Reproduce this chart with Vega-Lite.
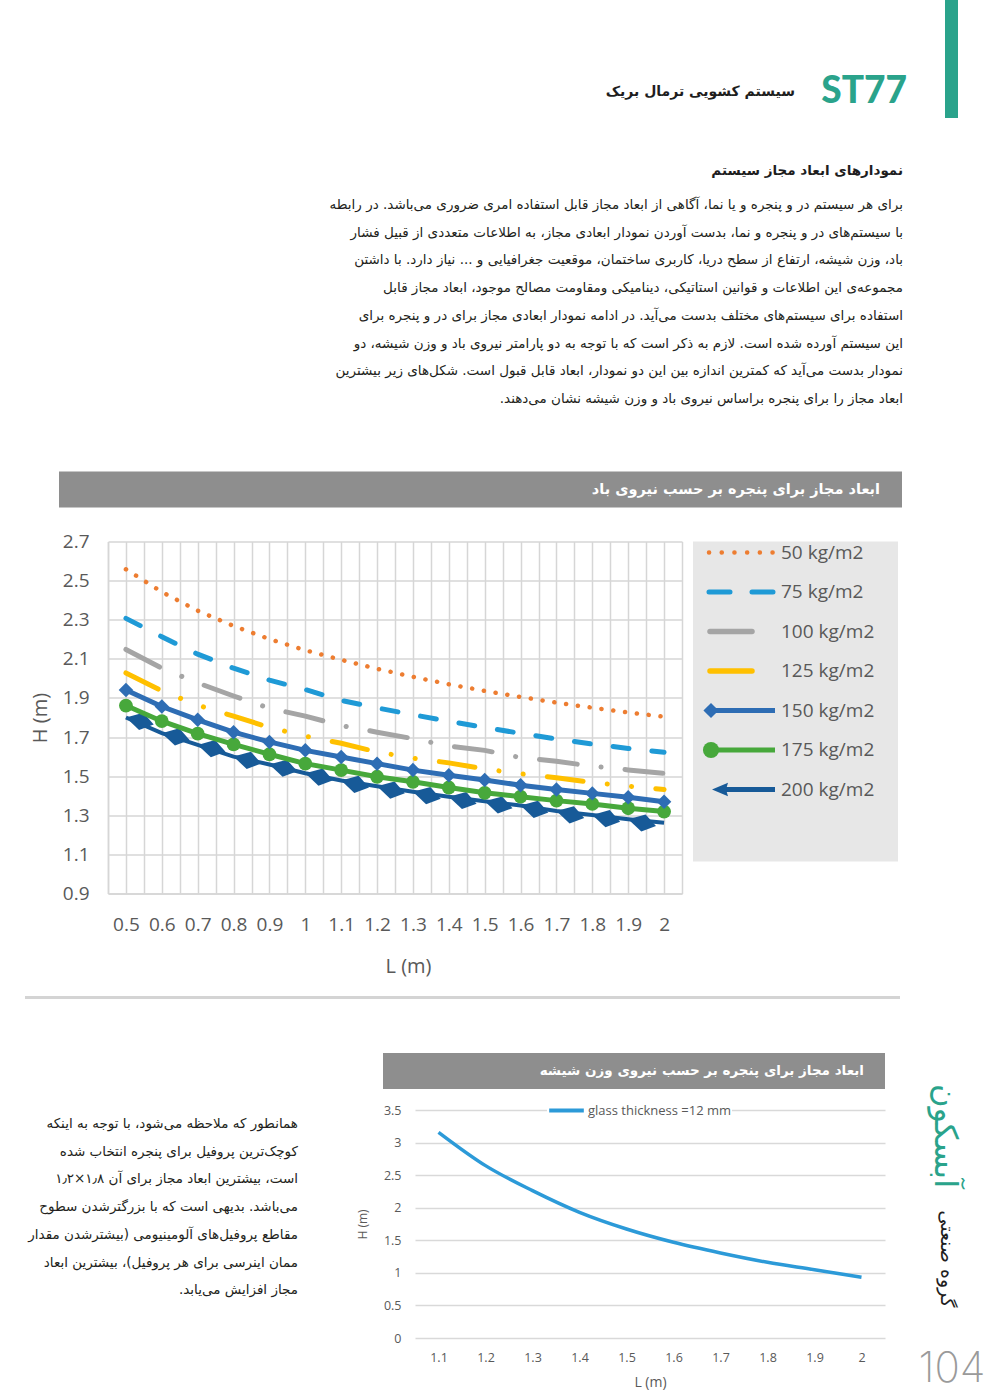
{
  "$schema": "https://vega.github.io/schema/vega-lite/v6.json",
  "padding": 0,
  "background": "white",
  "spacing": 53.5,
  "bounds": "full",
  "config": {"view": {"stroke": null}, "font": "Open Sans", "axis": {"labelFont": "Open Sans", "titleFont": "Open Sans"}},
  "resolve": {"scale": {"color": "independent"}},
  "datasets": {
    "wind": [
      {"P":50,"L":0.5,"H":2.558},{"P":50,"L":0.6,"H":2.442},{"P":50,"L":0.7,"H":2.346},{"P":50,"L":0.8,"H":2.268},{"P":50,"L":0.9,"H":2.201},{"P":50,"L":1.0,"H":2.144},{"P":50,"L":1.1,"H":2.095},{"P":50,"L":1.2,"H":2.049},{"P":50,"L":1.3,"H":2.008},{"P":50,"L":1.4,"H":1.970},{"P":50,"L":1.5,"H":1.936},{"P":50,"L":1.6,"H":1.905},{"P":50,"L":1.7,"H":1.876},{"P":50,"L":1.8,"H":1.850},{"P":50,"L":1.9,"H":1.826},{"P":50,"L":2.0,"H":1.804},
      {"P":75,"L":0.5,"H":2.307},{"P":75,"L":0.6,"H":2.213},{"P":75,"L":0.7,"H":2.124},{"P":75,"L":0.8,"H":2.052},{"P":75,"L":0.9,"H":1.991},{"P":75,"L":1.0,"H":1.943},{"P":75,"L":1.1,"H":1.887},{"P":75,"L":1.2,"H":1.849},{"P":75,"L":1.3,"H":1.814},{"P":75,"L":1.4,"H":1.781},{"P":75,"L":1.5,"H":1.749},{"P":75,"L":1.6,"H":1.719},{"P":75,"L":1.7,"H":1.690},{"P":75,"L":1.8,"H":1.664},{"P":75,"L":1.9,"H":1.642},{"P":75,"L":2.0,"H":1.622},
      {"P":100,"L":0.5,"H":2.148},{"P":100,"L":0.6,"H":2.052},{"P":100,"L":0.7,"H":1.977},{"P":100,"L":0.8,"H":1.910},{"P":100,"L":0.9,"H":1.847},{"P":100,"L":1.0,"H":1.807},{"P":100,"L":1.1,"H":1.759},{"P":100,"L":1.2,"H":1.725},{"P":100,"L":1.3,"H":1.692},{"P":100,"L":1.4,"H":1.654},{"P":100,"L":1.5,"H":1.632},{"P":100,"L":1.6,"H":1.595},{"P":100,"L":1.7,"H":1.576},{"P":100,"L":1.8,"H":1.551},{"P":100,"L":1.9,"H":1.532},{"P":100,"L":2.0,"H":1.514},
      {"P":125,"L":0.5,"H":2.028},{"P":125,"L":0.6,"H":1.936},{"P":125,"L":0.7,"H":1.863},{"P":125,"L":0.8,"H":1.807},{"P":125,"L":0.9,"H":1.749},{"P":125,"L":1.0,"H":1.705},{"P":125,"L":1.1,"H":1.668},{"P":125,"L":1.2,"H":1.624},{"P":125,"L":1.3,"H":1.592},{"P":125,"L":1.4,"H":1.568},{"P":125,"L":1.5,"H":1.537},{"P":125,"L":1.6,"H":1.512},{"P":125,"L":1.7,"H":1.492},{"P":125,"L":1.8,"H":1.468},{"P":125,"L":1.9,"H":1.449},{"P":125,"L":2.0,"H":1.432},
      {"P":150,"L":0.5,"H":1.941},{"P":150,"L":0.6,"H":1.856},{"P":150,"L":0.7,"H":1.788},{"P":150,"L":0.8,"H":1.725},{"P":150,"L":0.9,"H":1.675},{"P":150,"L":1.0,"H":1.632},{"P":150,"L":1.1,"H":1.598},{"P":150,"L":1.2,"H":1.564},{"P":150,"L":1.3,"H":1.531},{"P":150,"L":1.4,"H":1.505},{"P":150,"L":1.5,"H":1.480},{"P":150,"L":1.6,"H":1.454},{"P":150,"L":1.7,"H":1.432},{"P":150,"L":1.8,"H":1.412},{"P":150,"L":1.9,"H":1.392},{"P":150,"L":2.0,"H":1.369},
      {"P":175,"L":0.5,"H":1.861},{"P":175,"L":0.6,"H":1.781},{"P":175,"L":0.7,"H":1.717},{"P":175,"L":0.8,"H":1.663},{"P":175,"L":0.9,"H":1.612},{"P":175,"L":1.0,"H":1.564},{"P":175,"L":1.1,"H":1.531},{"P":175,"L":1.2,"H":1.497},{"P":175,"L":1.3,"H":1.471},{"P":175,"L":1.4,"H":1.442},{"P":175,"L":1.5,"H":1.415},{"P":175,"L":1.6,"H":1.395},{"P":175,"L":1.7,"H":1.375},{"P":175,"L":1.8,"H":1.358},{"P":175,"L":1.9,"H":1.336},{"P":175,"L":2.0,"H":1.319},
      {"P":200,"L":0.5,"H":1.800},{"P":200,"L":0.6,"H":1.720},{"P":200,"L":0.7,"H":1.660},{"P":200,"L":0.8,"H":1.600},{"P":200,"L":0.9,"H":1.560},{"P":200,"L":1.0,"H":1.515},{"P":200,"L":1.1,"H":1.478},{"P":200,"L":1.2,"H":1.448},{"P":200,"L":1.3,"H":1.420},{"P":200,"L":1.4,"H":1.395},{"P":200,"L":1.5,"H":1.372},{"P":200,"L":1.6,"H":1.350},{"P":200,"L":1.7,"H":1.322},{"P":200,"L":1.8,"H":1.302},{"P":200,"L":1.9,"H":1.280},{"P":200,"L":2.0,"H":1.262}
    ],
    "legend": [
      {"P":50,"lab":"50 kg/m2"},{"P":75,"lab":"75 kg/m2"},{"P":100,"lab":"100 kg/m2"},{"P":125,"lab":"125 kg/m2"},{"P":150,"lab":"150 kg/m2"},{"P":175,"lab":"175 kg/m2"},{"P":200,"lab":"200 kg/m2"}
    ],
    "glass": [
      {"g":"glass thickness =12 mm","L":1.1,"H":3.158},{"g":"glass thickness =12 mm","L":1.2,"H":2.646},{"g":"glass thickness =12 mm","L":1.3,"H":2.262},{"g":"glass thickness =12 mm","L":1.4,"H":1.929},{"g":"glass thickness =12 mm","L":1.5,"H":1.673},{"g":"glass thickness =12 mm","L":1.6,"H":1.469},{"g":"glass thickness =12 mm","L":1.7,"H":1.305},{"g":"glass thickness =12 mm","L":1.8,"H":1.162},{"g":"glass thickness =12 mm","L":1.9,"H":1.049},{"g":"glass thickness =12 mm","L":2.0,"H":0.931}
    ]
  },
  "vconcat": [
    {
      "width": 1000,
      "height": 417.5,
      "view": {"fill": "white", "stroke": null},
      "data": {"values": [{}]},
      "layer": [
        {"mark": {"type": "rect", "color": "#2aa38b"}, "encoding": {"x": {"value": 945}, "x2": {"value": 958}, "y": {"value": 0}, "y2": {"value": 118}}},
        {"mark": {"type": "text", "text": "ST77", "align": "right", "baseline": "middle", "font": "Lato", "fontWeight": 900, "fontSize": 37, "color": "#2aa38b"}, "encoding": {"x": {"value": 907}, "y": {"value": 92}}},
        {"mark": {"type": "text", "text": "\u200fسیستم کشویی ترمال بریک\u200f", "align": "right", "baseline": "middle", "font": "DejaVu Sans", "fontWeight": "bold", "fontSize": 14, "color": "#1e1e1e"}, "encoding": {"x": {"value": 795}, "y": {"value": 92}}},
        {"mark": {"type": "text", "text": "\u200fنمودارهای ابعاد مجاز سیستم\u200f", "align": "right", "baseline": "middle", "font": "DejaVu Sans", "fontWeight": "bold", "fontSize": 13.5, "color": "#1e1e1e"}, "encoding": {"x": {"value": 903}, "y": {"value": 171}}},
        {"mark": {"type": "text", "align": "right", "baseline": "middle", "font": "DejaVu Sans", "fontSize": 13.5, "lineHeight": 27.7, "color": "#231f20",
          "text": [
            "\u200fبرای هر سیستم در و پنجره و یا نما، آگاهی از ابعاد مجاز قابل استفاده امری ضروری می‌باشد. در رابطه\u200f",
            "\u200fبا سیستم‌های در و پنجره و نما، بدست آوردن نمودار ابعادی مجاز، به اطلاعات متعددی از قبیل فشار\u200f",
            "\u200fباد، وزن شیشه، ارتفاع از سطح دریا، کاربری ساختمان، موقعیت جغرافیایی و ... نیاز دارد. با داشتن\u200f",
            "\u200fمجموعه‌ی این اطلاعات و قوانین استاتیکی، دینامیکی ومقاومت مصالح موجود، ابعاد مجاز قابل\u200f",
            "\u200fاستفاده برای سیستم‌های مختلف بدست می‌آید. در ادامه نمودار ابعادی مجاز برای در و پنجره برای\u200f",
            "\u200fاین سیستم آورده شده است. لازم به ذکر است که با توجه به دو پارامتر نیروی باد و وزن شیشه، دو\u200f",
            "\u200fنمودار بدست می‌آید که کمترین اندازه بین این دو نمودار، ابعاد قابل قبول است. شکل‌های زیر بیشترین\u200f",
            "\u200fابعاد مجاز را برای پنجره براساس نیروی باد و وزن شیشه نشان می‌دهند.\u200f"
          ]}, "encoding": {"x": {"value": 903}, "y": {"value": 205}}}
      ]
    },
    {
      "spacing": 0,
      "bounds": "flush",
      "resolve": {"scale": {"color": "independent"}},
      "hconcat": [
        {"width": 108, "height": 1, "view": {"fill": "white", "stroke": null}, "data": {"values": []}, "mark": "point"},
        {
          "width": 574,
          "height": 352,
          "data": {"name": "wind"},
          "encoding": {
            "x": {"field": "L", "type": "quantitative", "scale": {"domain": [0.45, 2.05], "nice": false, "zero": false},
              "axis": {"values": [0.45,0.5,0.55,0.6,0.65,0.7,0.75,0.8,0.85,0.9,0.95,1,1.05,1.1,1.15,1.2,1.25,1.3,1.35,1.4,1.45,1.5,1.55,1.6,1.65,1.7,1.75,1.8,1.85,1.9,1.95,2,2.05],
                "format": "~g", "labelExpr": "round(datum.value*100) % 10 == 0 ? datum.label : ''",
                "grid": true, "gridColor": "#d6d6d6", "gridWidth": 1.5, "domainColor": "#d6d6d6", "domainWidth": 1.5, "ticks": false,
                "labelPadding": 22, "labelFontSize": 19, "labelColor": "#595959", "labelOverlap": false, "labelFlush": false,
                "title": "L (m)", "titleFontSize": 20, "titleFontWeight": "normal", "titleColor": "#595959", "titlePadding": 22, "titleX": 300}},
            "y": {"field": "H", "type": "quantitative", "scale": {"domain": [0.9, 2.7], "nice": false, "zero": false},
              "axis": {"values": [0.9,1.1,1.3,1.5,1.7,1.9,2.1,2.3,2.5,2.7], "format": ".1f",
                "grid": true, "gridColor": "#d6d6d6", "gridWidth": 1.5, "domainColor": "#d6d6d6", "domainWidth": 1.5, "ticks": false,
                "labelPadding": 19, "labelFontSize": 19, "labelColor": "#595959",
                "title": "H (m)", "titleFontSize": 20, "titleFontWeight": "normal", "titleColor": "#595959", "titlePadding": 12}}
          },
          "layer": [
            {"data": {"values": [{}]}, "mark": {"type": "rect", "color": "#8e8e8e"}, "encoding": {"x": {"value": -49}, "x2": {"value": 794}, "y": {"value": -70}, "y2": {"value": -34}}},
            {"data": {"values": [{}]}, "mark": {"type": "text", "text": "\u200fابعاد مجاز برای پنجره بر حسب نیروی باد\u200f", "align": "right", "baseline": "middle", "font": "DejaVu Sans", "fontWeight": "bold", "fontSize": 14.5, "color": "white"}, "encoding": {"x": {"value": 772}, "y": {"value": -52}}},
            {"data": {"values": [{}]}, "mark": {"type": "rule", "color": "#d4d4d4", "strokeWidth": 3}, "encoding": {"x": {"value": -83}, "x2": {"value": 792}, "y": {"value": 456}}},
            {"transform": [{"filter": "datum.P == 50"}], "mark": {"type": "line", "color": "#ED7D31", "strokeWidth": 4.5, "strokeDash": [0.1, 11.8], "strokeCap": "round"}},
            {"transform": [{"filter": "datum.P == 75"}], "mark": {"type": "line", "color": "#1F9AD6", "strokeWidth": 5, "strokeDash": [16, 23], "strokeCap": "round"}},
            {"transform": [{"filter": "datum.P == 100"}], "mark": {"type": "line", "color": "#A5A5A5", "strokeWidth": 5, "strokeDash": [38, 24, 0.1, 24], "strokeCap": "round"}},
            {"transform": [{"filter": "datum.P == 125"}], "mark": {"type": "line", "color": "#FFC000", "strokeWidth": 5, "strokeDash": [36, 24.3, 0.1, 24.3, 0.1, 24.3], "strokeCap": "round"}},
            {"transform": [{"filter": "datum.P == 200"}], "mark": {"type": "line", "color": "#175A98", "strokeWidth": 4}},
            {"transform": [{"filter": "datum.P == 200 && datum.L < 1.95"}], "mark": {"type": "point", "shape": "M0,0L1.1,-0.62L2,0L1.1,0.62Z", "filled": true, "size": 820, "angle": 14, "color": "#175A98", "opacity": 1}},
            {"transform": [{"filter": "datum.P == 175"}], "mark": {"type": "line", "color": "#47A83B", "strokeWidth": 5}},
            {"transform": [{"filter": "datum.P == 175"}], "mark": {"type": "point", "shape": "circle", "filled": true, "size": 190, "color": "#47A83B", "opacity": 1}},
            {"transform": [{"filter": "datum.P == 150"}], "mark": {"type": "line", "color": "#2E6DB4", "strokeWidth": 5}},
            {"transform": [{"filter": "datum.P == 150"}], "mark": {"type": "point", "shape": "diamond", "filled": true, "size": 210, "color": "#2E6DB4", "opacity": 1}}
          ]
        },
        {"width": 11, "height": 1, "data": {"values": []}, "mark": "point"},
        {
          "width": 205,
          "height": 320,
          "view": {"fill": "#e7e7e7", "stroke": null},
          "data": {"name": "legend"},
          "encoding": {
            "y": {"field": "lab", "type": "ordinal", "scale": {"type": "point", "padding": 0, "domain": ["50 kg/m2","75 kg/m2","100 kg/m2","125 kg/m2","150 kg/m2","175 kg/m2","200 kg/m2"], "range": [11, 248]}, "axis": null}
          },
          "layer": [
            {"transform": [{"filter": "datum.P == 50"}], "mark": {"type": "rule", "color": "#ED7D31", "strokeWidth": 4.5, "strokeDash": [0.1, 12.6], "strokeCap": "round"}, "encoding": {"x": {"value": 16}, "x2": {"value": 80}}},
            {"transform": [{"filter": "datum.P == 75"}], "mark": {"type": "rule", "color": "#1F9AD6", "strokeWidth": 5, "strokeDash": [21, 22], "strokeCap": "round"}, "encoding": {"x": {"value": 16}, "x2": {"value": 80}}},
            {"transform": [{"filter": "datum.P == 100"}], "mark": {"type": "rule", "color": "#A5A5A5", "strokeWidth": 5.5, "strokeCap": "round"}, "encoding": {"x": {"value": 17}, "x2": {"value": 59}}},
            {"transform": [{"filter": "datum.P == 125"}], "mark": {"type": "rule", "color": "#FFC000", "strokeWidth": 5.5, "strokeCap": "round"}, "encoding": {"x": {"value": 17}, "x2": {"value": 59}}},
            {"transform": [{"filter": "datum.P == 150"}], "mark": {"type": "rule", "color": "#2E6DB4", "strokeWidth": 5}, "encoding": {"x": {"value": 18}, "x2": {"value": 82}}},
            {"transform": [{"filter": "datum.P == 150"}], "mark": {"type": "point", "shape": "diamond", "filled": true, "size": 230, "color": "#2E6DB4", "opacity": 1}, "encoding": {"x": {"value": 18}}},
            {"transform": [{"filter": "datum.P == 175"}], "mark": {"type": "rule", "color": "#47A83B", "strokeWidth": 5}, "encoding": {"x": {"value": 18}, "x2": {"value": 82}}},
            {"transform": [{"filter": "datum.P == 175"}], "mark": {"type": "point", "shape": "circle", "filled": true, "size": 260, "color": "#47A83B", "opacity": 1}, "encoding": {"x": {"value": 18}}},
            {"transform": [{"filter": "datum.P == 200"}], "mark": {"type": "rule", "color": "#175A98", "strokeWidth": 5}, "encoding": {"x": {"value": 28}, "x2": {"value": 82}}},
            {"transform": [{"filter": "datum.P == 200"}], "mark": {"type": "point", "shape": "M0,0L2,-0.85L1.75,0L2,0.85Z", "filled": true, "size": 256, "color": "#175A98", "opacity": 1}, "encoding": {"x": {"value": 19}}},
            {"mark": {"type": "text", "align": "left", "baseline": "middle", "fontSize": 19, "color": "#595959", "font": "Open Sans"}, "encoding": {"x": {"value": 88}, "text": {"field": "lab"}}}
          ]
        },
        {"width": 102, "height": 1, "view": {"fill": "white", "stroke": null}, "data": {"values": []}, "mark": "point"}
      ]
    },
    {
      "spacing": 0,
      "bounds": "flush",
      "resolve": {"scale": {"color": "independent"}},
      "hconcat": [
        {
          "width": 310,
          "height": 289,
          "view": {"fill": "white", "stroke": null},
          "data": {"values": [{}]},
          "mark": {"type": "text", "align": "right", "baseline": "middle", "font": "DejaVu Sans", "fontSize": 13.5, "lineHeight": 27.7, "color": "#231f20",
            "text": [
              "\u200fهمانطور که ملاحظه می‌شود، با توجه به اینکه\u200f",
              "\u200fکوچک‌ترین پروفیل برای پنجره انتخاب شده\u200f",
              "\u200fاست، بیشترین ابعاد مجاز برای آن ۱٫۸×۱٫۲\u200f",
              "\u200fمی‌باشد. بدیهی است که با بزرگترشدن سطوح\u200f",
              "\u200fمقاطع پروفیل‌های آلومینیومی (بیشترشدن مقدار\u200f",
              "\u200fممان اینرسی برای هر پروفیل)، بیشترین ابعاد\u200f",
              "\u200fمجاز افزایش می‌یابد.\u200f"
            ]},
          "encoding": {"x": {"value": 298}, "y": {"value": 14}}
        },
        {"width": 105, "height": 1, "data": {"values": []}, "mark": "point"},
        {
          "width": 470,
          "height": 228,
          "data": {"name": "glass"},
          "encoding": {
            "x": {"field": "L", "type": "quantitative", "scale": {"domain": [1.05, 2.05], "nice": false, "zero": false},
              "axis": {"values": [1.1,1.2,1.3,1.4,1.5,1.6,1.7,1.8,1.9,2], "format": "~g", "grid": false, "ticks": false, "domain": false,
                "labelPadding": 13, "labelFontSize": 12.5, "labelColor": "#595959", "labelFlush": false, "labelOverlap": false,
                "title": "L (m)", "titleFontSize": 14, "titleFontWeight": "normal", "titleColor": "#595959", "titlePadding": 12}},
            "y": {"field": "H", "type": "quantitative", "scale": {"domain": [0, 3.5], "nice": false, "zero": false},
              "axis": {"values": [0,0.5,1,1.5,2,2.5,3,3.5], "format": "~g", "grid": true, "gridColor": "#d9d9d9", "gridWidth": 1.5, "domain": false, "ticks": false,
                "labelPadding": 14, "labelFontSize": 12.5, "labelColor": "#595959",
                "title": "H (m)", "titleFontSize": 12, "titleFontWeight": "normal", "titleColor": "#595959", "titlePadding": 14}}
          },
          "layer": [
            {"data": {"values": [{}]}, "mark": {"type": "rect", "color": "#8e8e8e"}, "encoding": {"x": {"value": -32}, "x2": {"value": 470}, "y": {"value": -57}, "y2": {"value": -21}}},
            {"data": {"values": [{}]}, "mark": {"type": "text", "text": "\u200fابعاد مجاز برای پنجره بر حسب نیروی وزن شیشه\u200f", "align": "right", "baseline": "middle", "font": "DejaVu Sans", "fontWeight": "bold", "fontSize": 13.5, "color": "white"}, "encoding": {"x": {"value": 449}, "y": {"value": -39}}},
            {
              "mark": {"type": "line", "strokeWidth": 3.5, "interpolate": "monotone"},
              "encoding": {
                "color": {"field": "g", "type": "nominal", "scale": {"range": ["#2C9AD8"]},
                  "legend": {"orient": "none", "legendX": 132, "legendY": -19, "title": null, "fillColor": "white", "padding": 0, "symbolType": "stroke", "symbolStrokeWidth": 4, "symbolSize": 1200, "labelFontSize": 13, "labelColor": "#595959", "labelOffset": 2}}
              }
            }
          ]
        },
        {"width": 15, "height": 1, "data": {"values": []}, "mark": "point"},
        {
          "width": 100,
          "height": 289,
          "view": {"fill": "white", "stroke": null},
          "data": {"values": [{}]},
          "layer": [
            {"mark": {"type": "text", "text": "آبسکون", "angle": 90, "align": "center", "baseline": "middle", "font": "DejaVu Sans", "fontSize": 32, "color": "#2aa38b"}, "encoding": {"x": {"value": 45}, "y": {"value": 26}}},
            {"mark": {"type": "text", "text": "گروه صنعتی", "angle": 90, "align": "center", "baseline": "middle", "font": "DejaVu Sans", "fontSize": 19, "color": "#1e1e1e"}, "encoding": {"x": {"value": 47}, "y": {"value": 149}}},
            {"mark": {"type": "text", "text": "104", "align": "center", "baseline": "middle", "font": "Inter", "fontWeight": 200, "fontSize": 42, "color": "#9a9a9a"}, "encoding": {"x": {"value": 52}, "y": {"value": 259}}}
          ]
        }
      ]
    }
  ]
}
